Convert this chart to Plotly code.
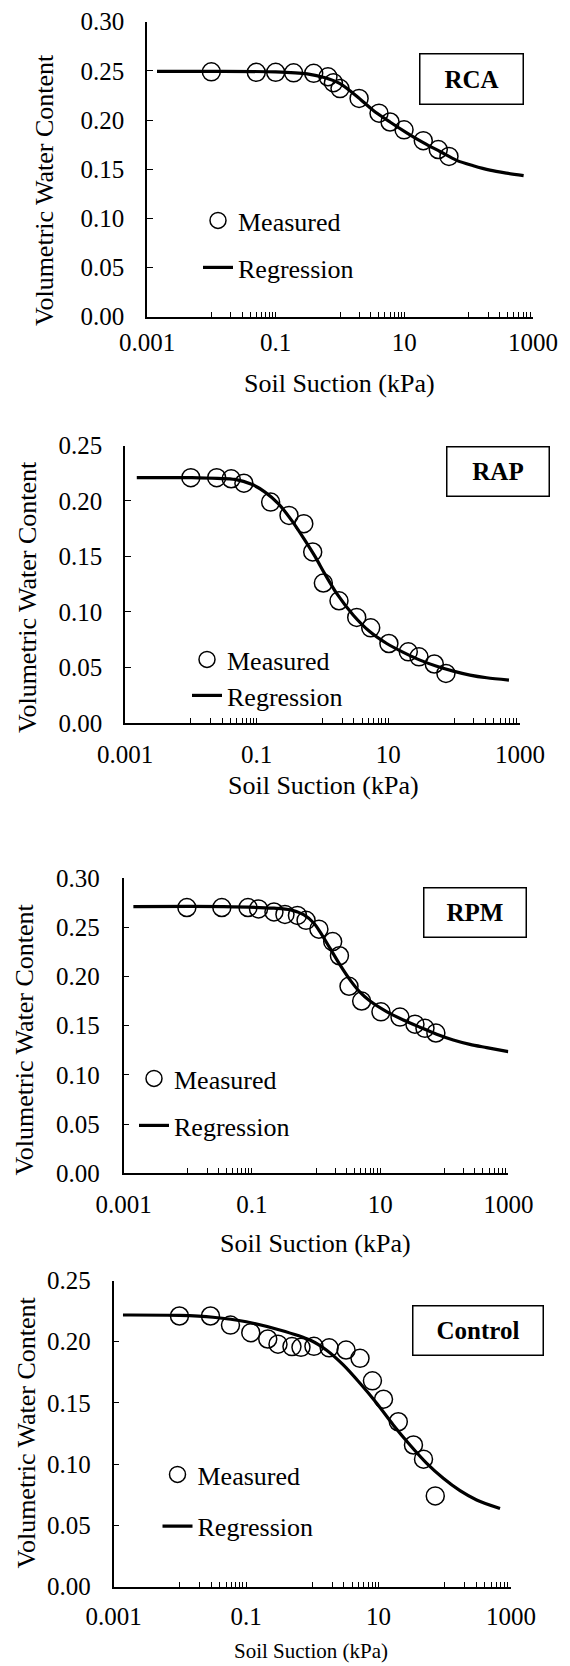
import plotly.graph_objects as go

W, H = 570, 1666
FONT = "Liberation Serif"

# ---------------- data ----------------
rca_x = [0.01, 0.05, 0.10, 0.19, 0.39, 0.65, 0.79, 1.0, 1.98, 4.04, 6.0, 9.9, 19.7, 33.7, 49.4]
rca_y = [0.249, 0.2485, 0.2485, 0.248, 0.2475, 0.244, 0.238, 0.232, 0.222, 0.207, 0.198, 0.190, 0.179, 0.170, 0.163]
rca_fit_x = [0.00143, 0.01, 0.1, 0.31, 0.59, 1.0, 1.84, 3.26, 5.98, 10.9, 19.7, 35.8, 65, 118, 214, 390, 715]
rca_fit_y = [0.2495, 0.2495, 0.249, 0.247, 0.243, 0.237, 0.224, 0.210, 0.198, 0.187, 0.177, 0.168, 0.159, 0.1535, 0.149, 0.146, 0.1435]

rap_x = [0.01, 0.0247, 0.041, 0.064, 0.163, 0.31, 0.52, 0.71, 1.03, 1.78, 3.31, 5.4, 10.2, 20.1, 29.2, 49.9, 75]
rap_y = [0.221, 0.221, 0.220, 0.216, 0.199, 0.187, 0.1795, 0.154, 0.126, 0.110, 0.095, 0.0856, 0.0715, 0.064, 0.0595, 0.053, 0.0445]
rap_fit_x = [0.00151, 0.0103, 0.0469, 0.084, 0.134, 0.213, 0.340, 0.542, 0.769, 1.09, 1.64, 2.94, 5.27, 9.45, 16.9, 30.3, 54.3, 97, 174, 312, 680]
rap_fit_y = [0.221, 0.221, 0.2194, 0.215, 0.208, 0.1976, 0.1825, 0.1645, 0.150, 0.134, 0.1166, 0.097, 0.082, 0.0715, 0.0635, 0.0565, 0.051, 0.0466, 0.043, 0.0406, 0.0385]

rpm_x = [0.0097, 0.034, 0.087, 0.127, 0.221, 0.328, 0.514, 0.70, 1.11, 1.82, 2.32, 3.27, 5.15, 10.3, 20.4, 34.9, 50, 74]
rpm_y = [0.270, 0.270, 0.270, 0.2686, 0.2655, 0.263, 0.262, 0.257, 0.248, 0.2354, 0.221, 0.190, 0.175, 0.164, 0.1587, 0.1515, 0.1473, 0.1425]
rpm_fit_x = [0.00142, 0.0367, 0.221, 0.403, 0.65, 0.93, 1.15, 1.65, 2.37, 3.39, 4.85, 6.95, 12.6, 23, 41.8, 76, 138, 251, 458, 995]
rpm_fit_y = [0.271, 0.271, 0.2693, 0.2676, 0.2625, 0.254, 0.2455, 0.2287, 0.2117, 0.1965, 0.184, 0.175, 0.1643, 0.1558, 0.1484, 0.1413, 0.1355, 0.131, 0.1277, 0.1236]

ctl_x = [0.0099, 0.0291, 0.0583, 0.118, 0.213, 0.304, 0.494, 0.676, 1.06, 1.80, 3.24, 5.26, 8.1, 11.9, 19.9, 33.7, 47.8, 71.9]
ctl_y = [0.221, 0.221, 0.2136, 0.2074, 0.2022, 0.198, 0.196, 0.1954, 0.1962, 0.195, 0.1932, 0.1864, 0.168, 0.153, 0.1346, 0.1156, 0.104, 0.074]
ctl_fit_x = [0.00139, 0.01, 0.0318, 0.101, 0.323, 0.925, 1.65, 2.94, 5.26, 9.4, 16.7, 29.9, 53.5, 95, 170, 303, 683]
ctl_fit_y = [0.2218, 0.2215, 0.220, 0.2163, 0.2096, 0.2014, 0.193, 0.181, 0.166, 0.1497, 0.132, 0.1156, 0.1006, 0.0884, 0.0783, 0.0707, 0.0637]

x_tickvals = [0.001, 0.1, 10, 1000]
x_ticktext = ["0.001", "0.1", "10", "1000"]
x_minor = [0.01, 0.02, 0.03, 0.04, 0.05, 0.06, 0.07, 0.08, 0.09,
           1, 2, 3, 4, 5, 6, 7, 8, 9,
           100, 200, 300, 400, 500, 600, 700, 800, 900]

# ---------------- layout (pixel geometry) ----------------
panels = [
    dict(label="RCA", mx=rca_x, my=rca_y, fx=rca_fit_x, fy=rca_fit_y, ymax=0.30,
         left=147, right=533, top=21.7, bottom=316.7,
         box=(471.5, 79, 105, 52), leg=(238, 220, 267),
         xt=(339, 383, 26), yt=(45, 190), xstand=2, ystand=16),
    dict(label="RAP", mx=rap_x, my=rap_y, fx=rap_fit_x, fy=rap_fit_y, ymax=0.25,
         left=125, right=520, top=445.5, bottom=722.8,
         box=(498, 471.5, 104, 51), leg=(227, 659, 695),
         xt=(323, 785, 26), yt=(27, 597), xstand=8, ystand=16),
    dict(label="RPM", mx=rpm_x, my=rpm_y, fx=rpm_fit_x, fy=rpm_fit_y, ymax=0.30,
         left=123.6, right=508.4, top=878, bottom=1173.3,
         box=(475, 912.5, 104, 51), leg=(174, 1078, 1125),
         xt=(316, 1243, 26), yt=(23.6, 1040), xstand=8, ystand=17),
    dict(label="Control", mx=ctl_x, my=ctl_y, fx=ctl_fit_x, fy=ctl_fit_y, ymax=0.25,
         left=113.5, right=511, top=1280.5, bottom=1586.5,
         box=(478, 1330.5, 132, 51), leg=(197.5, 1474, 1525.7),
         xt=(311, 1651, 21), yt=(25.5, 1433), xstand=7, ystand=16),
]

fig = go.Figure()
annotations = []
layout_updates = {}


def legend_cfg(text_x, center_y):
    return dict(
        x=(text_x - 40) / W, y=1 - (center_y - 23) / H, xanchor="left", yanchor="top",
        xref="paper", yref="paper", bgcolor="rgba(0,0,0,0)", borderwidth=0,
        font=dict(family=FONT, size=26, color="black"), itemwidth=30)


for i, p in enumerate(panels):
    n = "" if i == 0 else str(i + 1)
    xa, ya = "x" + n, "y" + n
    leg_m = "legend" if i == 0 else "legend" + str(2 * i + 1)
    leg_r = "legend" + str(2 * i + 2)
    fig.add_trace(go.Scatter(
        x=p["mx"], y=p["my"], mode="markers", name="Measured",
        xaxis=xa, yaxis=ya, legend=leg_m,
        marker=dict(symbol="circle-open", size=18, color="black",
                    line=dict(width=1.5, color="black")),
        showlegend=True))
    fig.add_trace(go.Scatter(
        x=p["fx"], y=p["fy"], mode="lines", name="Regression",
        xaxis=xa, yaxis=ya, legend=leg_r,
        line=dict(color="black", width=3.2, shape="spline", smoothing=0.8),
        showlegend=True))

    layout_updates["xaxis" + n] = dict(
        type="log", range=[-3, 3], domain=[p["left"] / W, p["right"] / W],
        anchor=ya, tickmode="array", tickvals=x_tickvals, ticktext=x_ticktext,
        ticks="inside", ticklen=5, tickwidth=1.3, tickcolor="black",
        showline=True, linecolor="black", linewidth=1.7,
        showgrid=False, zeroline=False, automargin=False,
        tickfont=dict(family=FONT, size=25, color="black"),
        ticklabelstandoff=p["xstand"],
        minor=dict(tickmode="array", tickvals=x_minor, ticks="inside",
                   ticklen=5, tickwidth=1.2, tickcolor="black", showgrid=False),
    )
    layout_updates["yaxis" + n] = dict(
        range=[0, p["ymax"]], domain=[1 - p["bottom"] / H, 1 - p["top"] / H],
        anchor=xa, dtick=0.05, tick0=0, tickformat=".2f",
        ticks="inside", ticklen=6, tickwidth=1.3, tickcolor="black",
        showline=True, linecolor="black", linewidth=1.7,
        showgrid=False, zeroline=False, automargin=False,
        tickfont=dict(family=FONT, size=25, color="black"),
        ticklabelstandoff=p["ystand"],
    )
    tx0, cy_m, cy_r = p["leg"]
    layout_updates[leg_m] = legend_cfg(tx0, cy_m)
    layout_updates[leg_r] = legend_cfg(tx0, cy_r)

    bx, by, bw, bh = p["box"]
    annotations.append(dict(
        text="<b>" + p["label"] + "</b>", x=bx / W, y=1 - by / H,
        xref="paper", yref="paper", xanchor="center", yanchor="middle",
        showarrow=False, font=dict(family=FONT, size=25, color="black"),
        bordercolor="black", borderwidth=1.5, borderpad=0,
        width=bw - 3, height=bh - 3, bgcolor="white"))
    tx, ty, ts = p["xt"]
    annotations.append(dict(
        text="Soil Suction (kPa)", x=tx / W, y=1 - ty / H,
        xref="paper", yref="paper", xanchor="center", yanchor="middle",
        showarrow=False, font=dict(family=FONT, size=ts, color="black")))
    yx, yy = p["yt"]
    annotations.append(dict(
        text="Volumetric Water Content", x=yx / W, y=1 - yy / H, textangle=-90,
        xref="paper", yref="paper", xanchor="center", yanchor="middle",
        showarrow=False, font=dict(family=FONT, size=26, color="black")))

fig.update_layout(
    width=W, height=H, margin=dict(l=0, r=0, t=0, b=0, pad=0, autoexpand=False),
    paper_bgcolor="white", plot_bgcolor="white",
    annotations=annotations, showlegend=True,
    **layout_updates)

fig.write_html("out.html", config={"displayModeBar": False},
               post_script="document.body.style.margin='0px';")
